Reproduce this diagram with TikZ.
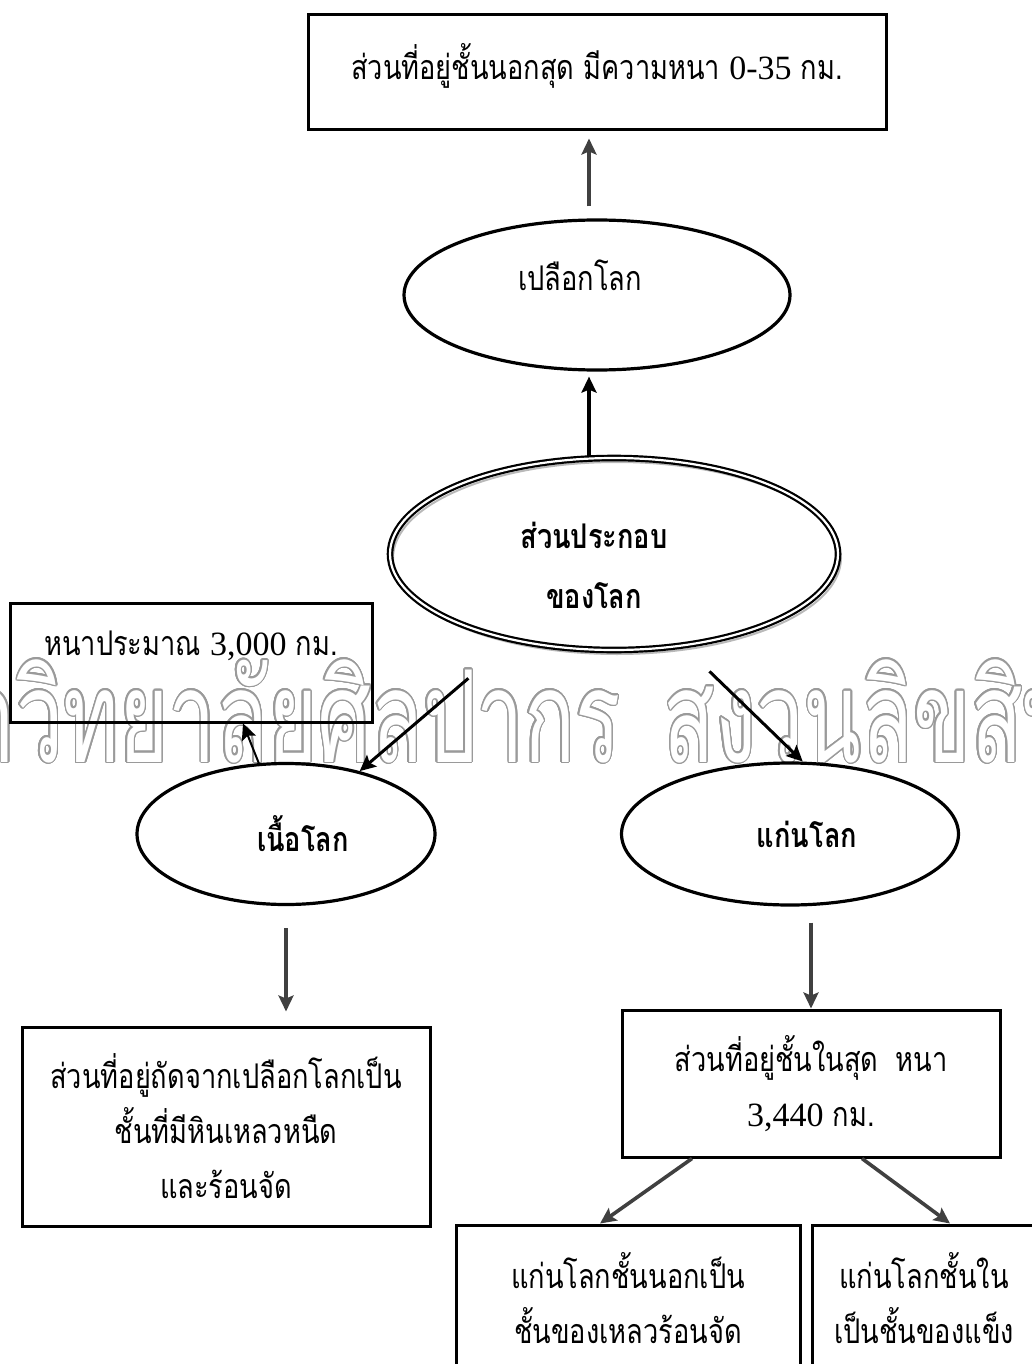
\documentclass[tikz,border=0pt]{standalone}
\usepackage{fontspec}
\setmainfont{Liberation Serif}
\newfontfamily\thaifont[Script=Thai,FakeStretch=0.8]{Loma}
\newfontfamily\markfont[Script=Thai,FakeStretch=0.66]{Loma}
\usepackage{contour}
\contourlength{0.7pt}
\contournumber{24}
\usetikzlibrary{%
  arrows.meta,%
  shapes.geometric,% wg. ellipse
  positioning,%
  calc%
}
\definecolor{arrowgray}{HTML}{404040}
\definecolor{markgray}{HTML}{9a9a9a}
\newcommand{\lat}[1]{{\rmfamily #1}}

\begin{document}
\begin{tikzpicture}[
  x=0.5pt, y=-0.5pt,
  font=\thaifont\fontsize{17}{27.5}\selectfont, >={Stealth[length=8pt,width=7.5pt,inset=1.5pt]}, line width=1.5pt,
  infobox/.style={rectangle, draw=black, line width=1.5pt, inner sep=0pt, align=center},
  layer/.style={ellipse, draw=black, line width=1.6pt, inner sep=0pt, align=center},
  grayarrow/.style={->, draw=arrowgray, line width=1.8pt},
  blackarrow/.style={->, draw=black, line width=1.5pt},
  watermark/.style={inner sep=0pt, font=\markfont\fontsize{64}{70}\selectfont}
]
\useasboundingbox (0,0) rectangle (1032,1364);
\clip (0,0) rectangle (1032,1364);

\node[watermark, anchor=base east] (wmleft) at (622,762) {\contour{markgray}{\textcolor{white}{มหาวิทยาลัยศิลปากร}}};
\node[watermark, anchor=base west] (wmright) at (662,762) {\contour{markgray}{\textcolor{white}{สงวนลิขสิทธิ์}}};

\node[infobox, minimum width=289pt, minimum height=57.5pt] (crustbox) at (597,72.5) {\raisebox{3.5pt}[\height][\depth]{ส่วนที่อยู่ชั้นนอกสุด มีความหนา \lat{0-35} กม.}};
\node[layer, minimum width=193pt, minimum height=75pt] (crust) at (597,295) {\raisebox{10pt}[\height][\depth]{เปลือกโลก}\hspace*{17pt}};

\draw[gray!55, line width=1pt] (617,558) ellipse [x radius=224, y radius=96];
\node[layer, double, double distance=1.1pt, line width=1.1pt, minimum width=224pt, minimum height=96pt, font=\thaifont\bfseries\fontsize{17}{30}\selectfont] (earth) at (614,554) {\raisebox{-6pt}[\height][\depth]{\begin{tabular}{@{}c@{}}ส่วนประกอบ\\ของโลก\end{tabular}}\hspace*{20pt}};

\node[infobox, minimum width=181pt, minimum height=59.5pt] (thick) at (191,662.5) {\raisebox{8.5pt}[\height][\depth]{หนาประมาณ \lat{3,000} กม.}};
\node[layer, minimum width=149pt, minimum height=70.5pt, font=\thaifont\bfseries\fontsize{17}{27.5}\selectfont] (mantle) at (286,834) {\hspace*{17pt}เนื้อโลก};
\node[layer, minimum width=168.5pt, minimum height=71pt, font=\thaifont\bfseries\fontsize{17}{27.5}\selectfont] (core) at (790,834) {\hspace*{17pt}แก่นโลก};

\node[infobox, minimum width=204pt, minimum height=99.5pt] (mantlebox) at (226,1126.5) {ส่วนที่อยู่ถัดจากเปลือกโลกเป็น\\ชั้นที่มีหินเหลวหนืด\\และร้อนจัด};
\node[infobox, minimum width=189pt, minimum height=73.5pt] (corebox) at (811,1083.5) {ส่วนที่อยู่ชั้นในสุด\enspace หนา\\\lat{3,440} กม.};
\node[infobox, minimum width=172pt, minimum height=73.5pt] (outerbox) at (628,1298.5) {แก่นโลกชั้นนอกเป็น\\ชั้นของเหลวร้อนจัด};
\node[infobox, minimum width=112pt, minimum height=73.5pt] (solidbox) at (924,1298.5) {แก่นโลกชั้นใน\\เป็นชั้นของแข็ง};

\draw[grayarrow, shorten <=6pt, shorten >=3.5pt] ([xshift=-4pt]crust.north) -- ([xshift=-4pt]crust.north |- crustbox.south);
\draw[->, line width=2pt, shorten >=2.5pt] ([xshift=-4pt]crust.south |- earth.north) -- ([xshift=-4pt]crust.south);
\draw[blackarrow, shorten <=29pt] (earth) -- (mantle);
\draw[blackarrow, shorten <=18pt] (earth.-53) -- (core.80);
\draw[->, line width=1pt] (mantle.111) -- ([xshift=26pt]thick.south);
\draw[grayarrow, shorten <=11pt, shorten >=7pt] (mantle.south) -- (mantle.south |- mantlebox.north);
\draw[grayarrow, shorten <=8pt] (core.south -| corebox.north) -- (corebox.north);
\draw[grayarrow] ([xshift=-59.5pt]corebox.south) -- ([xshift=-14pt]outerbox.north);
\draw[grayarrow] ([xshift=25.5pt]corebox.south) -- ([xshift=13pt]solidbox.north);
\end{tikzpicture}
\end{document}
